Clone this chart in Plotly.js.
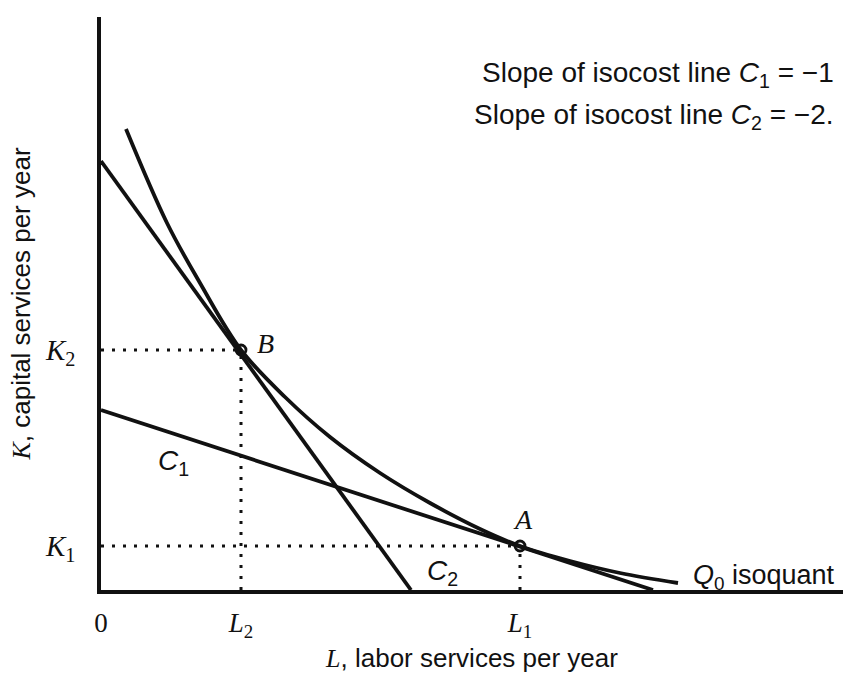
<!DOCTYPE html>
<html>
<head>
<meta charset="utf-8">
<script src="https://cdn.plot.ly/plotly-3.0.1.min.js"></script>
<style>
  html, body { margin: 0; padding: 0; background: #fff; }
  #chart { width: 843px; height: 673px; }
</style>
</head>
<body>
<div id="chart"></div>
<script>
// ---- data (arbitrary units) ----
const isoquantL = [2.5, 6.6, 9.9, 14.0, 18.4, 22.9, 27.9, 32.9, 37.9, 41.9, 46.9, 51.9, 57.7];
const isoquantK = [46.1, 36.7, 30.7, 24.0, 19.3, 15.3, 11.7, 8.7, 6.1, 4.4, 2.9, 1.7, 0.7];

const isocostC1L = [0, 55.2];
const isocostC1K = [18.0, 0];
const isocostC2L = [0, 31.0];
const isocostC2K = [42.9, 0];

const pointNames = ["B", "A"];
const pointL = [14.0, 41.9];
const pointK = [24.0, 4.4];

const xTickVals = [0, 14.0, 41.9];
const xTickText = ["0", "<i>L</i><sub>2</sub>", "<i>L</i><sub>1</sub>"];
const yTickVals = [4.4, 24.0];
const yTickText = ["<i>K</i><sub>1</sub>", "<i>K</i><sub>2</sub>"];

const slopeNotes = ["Slope of isocost line <i>C</i><sub>1</sub> = \u22121",
                    "Slope of isocost line <i>C</i><sub>2</sub> = \u22122."];

// ---- traces ----
const ink = "#111";
const dotted = { color: ink, width: 3, dash: "3px,8px" };

const traces = [];
// dotted guide lines from each point to the axes
pointL.forEach((l, i) => {
  traces.push({ x: [0, l], y: [pointK[i], pointK[i]], mode: "lines", line: dotted, hoverinfo: "skip", showlegend: false });
  traces.push({ x: [l, l], y: [0, pointK[i]], mode: "lines", line: dotted, hoverinfo: "skip", showlegend: false });
});
traces.push({ x: isocostC1L, y: isocostC1K, mode: "lines", line: { color: ink, width: 3.8 }, name: "C1", showlegend: false });
traces.push({ x: isocostC2L, y: isocostC2K, mode: "lines", line: { color: ink, width: 3.8 }, name: "C2", showlegend: false });
traces.push({ x: isoquantL, y: isoquantK, mode: "lines", line: { color: ink, width: 3.8, shape: "spline", smoothing: 1 }, name: "Q0", showlegend: false });
traces.push({ x: pointL, y: pointK, mode: "markers", text: pointNames,
  marker: { symbol: "circle-open", size: 10, color: ink, line: { color: ink, width: 2.8 } }, showlegend: false });

const serif = "Liberation Serif, Times New Roman, serif";
const sans = "Liberation Sans, Arial, sans-serif";

const annotations = [
  { x: pointL[0], y: pointK[0], text: "<i>" + pointNames[0] + "</i>", xanchor: "left", yanchor: "middle", xshift: 14, yshift: 7, font: { family: serif, size: 28, color: ink } },
  { x: pointL[1], y: pointK[1], text: "<i>" + pointNames[1] + "</i>", xanchor: "center", yanchor: "bottom", xshift: 3, yshift: 9, font: { family: serif, size: 28, color: ink } },
  { x: 7.2, y: 12.8, text: "<i>C</i><sub>1</sub>", xanchor: "center", yanchor: "middle", font: { family: sans, size: 28, color: ink } },
  { x: 34.1, y: 1.8, text: "<i>C</i><sub>2</sub>", xanchor: "center", yanchor: "middle", font: { family: sans, size: 28, color: ink } },
  { x: 59.0, y: 1.3, text: "<i>Q</i><sub>0</sub> isoquant", xanchor: "left", yanchor: "middle", font: { family: sans, size: 27, color: ink } },
  { xref: "paper", yref: "paper", x: 0.991, y: 0.899, text: slopeNotes[0], xanchor: "right", yanchor: "middle", font: { family: sans, size: 28, color: ink } },
  { xref: "paper", yref: "paper", x: 0.991, y: 0.826, text: slopeNotes[1], xanchor: "right", yanchor: "middle", font: { family: sans, size: 28, color: ink } }
].map(a => Object.assign({ showarrow: false }, a));

const layout = {
  width: 843, height: 673,
  margin: { l: 101, r: 0, t: 17, b: 83, pad: 0 },
  paper_bgcolor: "#fff", plot_bgcolor: "#fff",
  showlegend: false,
  xaxis: {
    range: [0, 74.2], showgrid: false, zeroline: false,
    showline: true, linecolor: ink, linewidth: 3.8,
    tickmode: "array", tickvals: xTickVals, ticktext: xTickText, ticks: "",
    ticklabelstandoff: 6,
    tickfont: { family: serif, size: 27, color: ink },
    title: { text: "<i><span style=\"font-family:Liberation Serif\">L</span></i>, labor services per year", standoff: 20,
             font: { family: sans, size: 26, color: ink } },
    fixedrange: true
  },
  yaxis: {
    range: [0, 57.3], showgrid: false, zeroline: false,
    showline: true, linecolor: ink, linewidth: 3.8,
    tickmode: "array", tickvals: yTickVals, ticktext: yTickText, ticks: "",
    ticklabelstandoff: 16,
    tickfont: { family: serif, size: 29, color: ink },
    title: { text: "<i><span style=\"font-family:Liberation Serif\">K</span></i>, capital services per year", standoff: 8,
             font: { family: sans, size: 26, color: ink } },
    fixedrange: true
  },
  annotations: annotations
};

Plotly.newPlot("chart", traces, layout, { staticPlot: true, displayModeBar: false });
</script>
</body>
</html>
